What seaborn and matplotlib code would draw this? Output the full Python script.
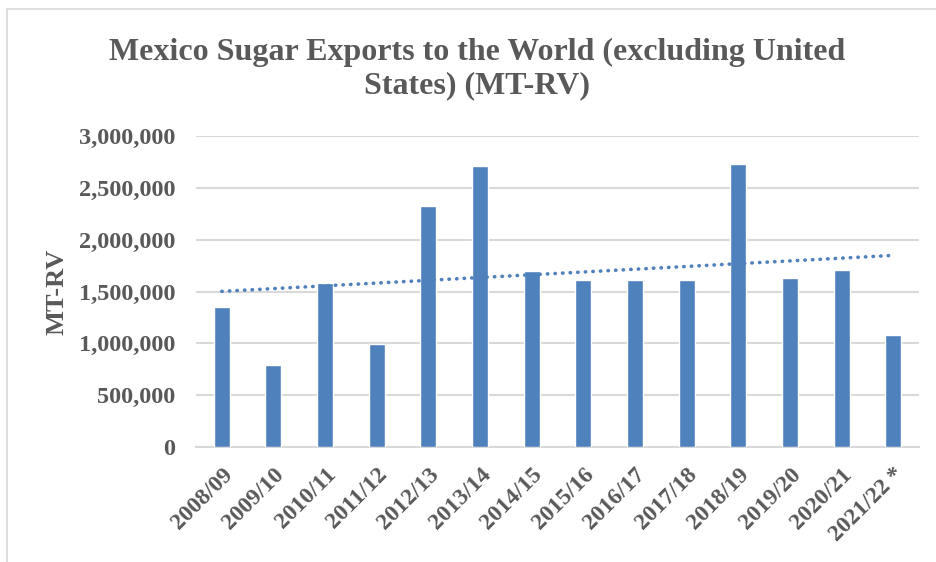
import numpy as np
import pandas as pd
import matplotlib
matplotlib.use("Agg")
import matplotlib.pyplot as plt
import seaborn as sns
from matplotlib.patches import Rectangle
from matplotlib.ticker import FuncFormatter

# data (MT-RV)
seasons = ["2008/09", "2009/10", "2010/11", "2011/12", "2012/13", "2013/14", "2014/15",
           "2015/16", "2016/17", "2017/18", "2018/19", "2019/20", "2020/21", "2021/22 *"]
exports = [1355000, 793000, 1586000, 996000, 2328000, 2707000, 1696000,
           1609000, 1612000, 1609000, 2733000, 1631000, 1708000, 1085000]

df = pd.DataFrame({"season": seasons, "exports": exports})

sns.set_style("white")
plt.rcParams["font.family"] = ["Liberation Serif", "DejaVu Serif"]
gray = "#595959"
blue = "#4F81BD"

fig = plt.figure(figsize=(9.37, 5.62), dpi=100)
ax = fig.add_axes([196 / 937, 1 - 447 / 562, 723 / 937, 311 / 562])

sns.barplot(data=df, x="season", y="exports", color=blue, saturation=1,
            width=0.31, order=seasons, ax=ax, zorder=3)

# linear trendline like Excel
xs = np.arange(len(seasons))
k, b = np.polyfit(xs, exports, 1)
ax.plot(xs, k * xs + b, color=blue, lw=2.6, ls=(0, (0.1, 2.0)),
        dash_capstyle="round", zorder=4)

ax.set_ylim(0, 3000000)
ax.set_yticks(np.arange(0, 3000001, 500000))
ax.yaxis.set_major_formatter(FuncFormatter(lambda v, p: f"{int(v):,}"))
ax.grid(axis="y", color="#D9D9D9", lw=1.5, zorder=0)
ax.set_axisbelow(True)
for s in ["top", "right", "left"]:
    ax.spines[s].set_visible(False)
ax.spines["bottom"].set_color("#D9D9D9")
ax.spines["bottom"].set_linewidth(1.5)
ax.set_xlim(-0.5, len(seasons) - 0.5)

ax.tick_params(axis="both", length=0, colors=gray)
ax.tick_params(axis="y", pad=15, labelsize=17.5)
for lab in ax.get_yticklabels():
    lab.set_fontweight("bold")
ax.set_xticks(xs)
ax.set_xticklabels(seasons, rotation=45, ha="right", rotation_mode="anchor",
                   fontweight="bold", color=gray, fontsize=17)
ax.tick_params(axis="x", pad=12)

ax.set_xlabel("")
ax.set_ylabel("MT-RV", fontsize=19, fontweight="bold", color=gray)
ax.yaxis.set_label_coords(-0.177, 0.5)

fig.text(477 / 937, 1 - 69 / 562, "Mexico Sugar Exports to the World (excluding United\nStates) (MT-RV)",
         ha="center", va="center", fontsize=23, fontweight="bold", color=gray,
         linespacing=1.2)

# outer chart border
fig.patches.append(Rectangle((7 / 937, -0.1), 1.2, 1 - 9 / 562 + 0.1,
                             transform=fig.transFigure, fill=False,
                             edgecolor="#D9D9D9", lw=1.2))

fig.savefig("out.png", dpi=100)
